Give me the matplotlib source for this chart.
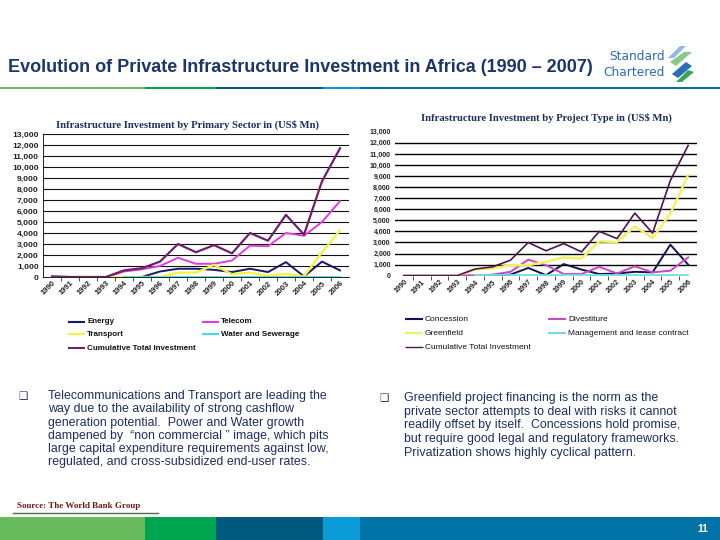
import numpy as np
import matplotlib
matplotlib.use('Agg')
import matplotlib.pyplot as plt
from matplotlib.patches import Rectangle, Polygon
from matplotlib.ticker import FuncFormatter, FixedLocator

# ---------------- data ----------------
years = ['1990', '1991', '1992', '1993', '1994', '1995', '1996', '1997', '1998',
         '1999', '2000', '2001', '2002', '2003', '2004', '2005', '2006']

# Primary sector (US$ Mn)
energy = [0, 0, 0, 0, 0, 0, 500, 750, 750, 650, 450, 750, 450, 1350, 50, 1400, 600]
telecom = [30, 0, 0, 0, 500, 700, 1000, 1750, 1200, 1200, 1500, 2850, 2800, 4000, 3750, 5000, 6900]
transport = [0, 0, 0, 0, 0, 0, 0, 400, 400, 1100, 250, 400, 100, 300, 50, 2250, 4250]
water = [None, None, None, None, 20, 20, 20, 20, 20, 20, 20, 20, 20, 20, 20, 20, 20]
total_sector = [50, 0, 0, 0, 600, 800, 1400, 3000, 2250, 2900, 2150, 4000, 3300, 5650, 3850, 8700, 11700]

# Project type (US$ Mn)
concession = [0, 0, 0, 0, 0, 0, 100, 700, 50, 1050, 550, 150, 200, 350, 300, 2800, 1000]
divestiture = [0, 0, 0, 0, 0, 100, 350, 1450, 950, 150, 150, 800, 200, 850, 300, 450, 1650]
greenfield = [0, 0, 0, 0, 550, 650, 950, 950, 1250, 1650, 1550, 3100, 3050, 4450, 3400, 5600, 9100]
management = [None, None, None, None, 20, 20, 20, 20, 20, 20, 20, 20, 20, 20, 20, 20, 20]
total_type = [0, 0, 0, 0, 600, 800, 1400, 3000, 2250, 2900, 2150, 4000, 3350, 5650, 3850, 8600, 11750]

y_ticks = list(range(0, 14000, 1000))

# ---------------- layout helpers ----------------
W, H = 720, 540
fig = plt.figure(figsize=(7.2, 5.4), dpi=100)
fig.patch.set_facecolor('white')
bg = fig.add_axes([0, 0, 1, 1], zorder=0)
bg.set_xlim(0, W)
bg.set_ylim(H, 0)
bg.axis('off')


def rect(x0, y0, x1, y1):
    return [x0 / W, 1 - y1 / H, (x1 - x0) / W, (y1 - y0) / H]


SANS = ['Liberation Sans', 'DejaVu Sans']
SERIF = ['Liberation Serif', 'DejaVu Serif']
NAVY = '#1b3668'
TEXT = '#1f2d62'

# ---------------- header ----------------
bg.text(8, 68, 'Evolution of Private Infrastructure Investment in Africa (1990 \u2013 2007)',
        fontsize=13.0, fontweight='bold', color=NAVY, family=SANS, va='center', ha='left')
bg.text(665, 56, 'Standard', fontsize=8.8, color='#2a6db5', va='center', ha='right',
        family=['Liberation Sans Narrow', 'DejaVu Sans'])
bg.text(665, 73, 'Chartered', fontsize=8.8, color='#2a6db5', va='center', ha='right',
        family=['Liberation Sans Narrow', 'DejaVu Sans'])
# logo icon (stylised)
logo = [
    ([(680, 46), (686, 46), (674, 58), (668, 58)], '#8fb9e3'),
    ([(684, 52), (692, 52), (676, 66), (670, 62)], '#86c98a'),
    ([(686, 62), (692, 66), (678, 78), (672, 74)], '#2a6db5'),
    ([(688, 70), (694, 72), (682, 82), (676, 82)], '#35a852'),
]
for pts, c in logo:
    bg.add_patch(Polygon(pts, closed=True, facecolor=c, edgecolor='none'))

segs = [(0, 145, '#67bb5d'), (145, 216, '#00a54f'), (216, 323, '#005a80'),
        (323, 360, '#0b9bd6'), (360, 720, '#0072a6')]
for x0, x1, c in segs:
    bg.add_patch(Rectangle((x0, 87), x1 - x0, 2.2, facecolor=c, edgecolor='none'))
    bg.add_patch(Rectangle((x0, 517), x1 - x0, 23, facecolor=c, edgecolor='none'))
bg.text(703, 529, '11', color='white', fontsize=7.5, fontweight='bold', family=SANS,
        ha='center', va='center')

# ---------------- chart helper ----------------
x = np.arange(len(years))


def style_axis(ax, fsx, fsy, bold, box):
    ax.set_xlim(-0.5, len(years) - 0.5)
    ax.set_ylim(0, 13000)
    ax.yaxis.set_major_locator(FixedLocator(y_ticks))
    ax.yaxis.set_major_formatter(FuncFormatter(lambda v, p: f'{int(v):,}'))
    ax.set_xticks(x)
    ax.set_xticklabels(years)
    ax.set_xticks(x[:-1] + 0.5, minor=True)
    ax.tick_params(axis='x', which='major', length=0, pad=2)
    ax.tick_params(axis='x', which='minor', length=3, width=0.6, direction='out', color='#333333')
    ax.tick_params(axis='y', length=0, pad=3)
    for lab in ax.get_xticklabels():
        lab.set_rotation(45)
        lab.set_ha('right')
        lab.set_rotation_mode('anchor')
        lab.set_fontsize(fsx)
        lab.set_fontweight('bold' if bold else 'normal')
        lab.set_family(SANS)
        lab.set_color('#222222')
    for lab in ax.get_yticklabels():
        lab.set_fontsize(fsy)
        lab.set_fontweight('bold' if bold else 'normal')
        lab.set_family(SANS)
        lab.set_color('#222222')
    for s in ['top', 'right']:
        ax.spines[s].set_visible(False)
    ax.spines['left'].set_visible(box)
    ax.spines['left'].set_linewidth(0.6)
    ax.spines['bottom'].set_visible(box)
    ax.spines['bottom'].set_linewidth(0.6)
    ax.set_facecolor('none')


def arr(v):
    return np.array([np.nan if a is None else a for a in v], dtype=float)


# ---------------- left chart ----------------
ax1 = fig.add_axes(rect(43, 134, 349, 277), zorder=2)
for yv in y_ticks[1:]:
    ax1.axhline(yv, color='#111111', lw=0.8, zorder=1)
ax1.plot(x, arr(energy), color='#17176b', lw=1.4, zorder=3)
ax1.plot(x, arr(telecom), color='#e23be0', lw=1.4, zorder=3)
ax1.plot(x, arr(transport), color='#f4f43c', lw=1.6, zorder=3)
ax1.plot(x, arr(water), color='#3fdfe6', lw=1.3, zorder=3)
ax1.plot(x, arr(total_sector), color='#6e2069', lw=1.6, zorder=4)
style_axis(ax1, 5.6, 6.1, True, True)
bg.text(187, 125, 'Infrastructure Investment by Primary Sector in (US$ Mn)', fontsize=7.7,
        fontweight='bold', family=SERIF, color='#1c2f5a', ha='center', va='center')

# ---------------- right chart ----------------
ax2 = fig.add_axes(rect(395, 131.7, 697, 275.7), zorder=2)
for yv in y_ticks[1:-1]:
    ax2.axhline(yv, color='black', lw=1.0, zorder=1)
ax2.plot(x, arr(concession), color='#141450', lw=1.4, zorder=3)
ax2.plot(x, arr(divestiture), color='#cc44c8', lw=1.4, zorder=3)
ax2.plot(x, arr(greenfield), color='#f2f25e', lw=1.8, zorder=3)
ax2.plot(x, arr(management), color='#6fdde6', lw=1.3, zorder=3)
ax2.plot(x, arr(total_type), color='#4d1550', lw=1.2, zorder=4)
style_axis(ax2, 5.2, 5.0, True, False)
bg.text(546, 118, 'Infrastructure Investment by Project Type in (US$ Mn)', fontsize=7.7,
        fontweight='bold', family=SERIF, color='#1c2f5a', ha='center', va='center')


# ---------------- legends ----------------
def legend_item(xh, y, color, label, lw, fs, bold, hl=17):
    bg.plot([xh, xh + hl], [y, y], color=color, lw=lw, solid_capstyle='butt')
    bg.text(xh + hl + 2, y, label, fontsize=fs, fontweight='bold' if bold else 'normal',
            family=SANS, color='#111111', ha='left', va='center')


legend_item(68, 321.7, '#17176b', 'Energy', 1.5, 5.8, True)
legend_item(202, 321.7, '#e23be0', 'Telecom', 1.5, 5.8, True)
legend_item(68, 334.3, '#f4f43c', 'Transport', 1.5, 5.8, True)
legend_item(202, 334.3, '#3fdfe6', 'Water and Sewerage', 1.5, 5.8, True)
legend_item(68, 348, '#6e2069', 'Cumulative Total Investment', 1.5, 5.8, True)

legend_item(405, 319.3, '#141450', 'Concession', 1.5, 6.0, False, 18)
legend_item(548, 319.3, '#cc44c8', 'Divestiture', 1.5, 6.0, False, 18)
legend_item(405, 333.3, '#f2f25e', 'Greenfield', 1.5, 6.0, False, 18)
legend_item(548, 333.3, '#6fdde6', 'Management and lease contract', 1.5, 6.0, False, 18)
legend_item(405, 347.3, '#4d1550', 'Cumulative Total Investment', 1.0, 6.0, False, 18)

# ---------------- bullet text ----------------
left_lines = [
    'Telecommunications and Transport are leading the',
    'way due to the availability of strong cashflow',
    'generation potential.  Power and Water growth',
    'dampened by  \u201cnon commercial \u201d image, which pits',
    'large capital expenditure requirements against low,',
    'regulated, and cross-subsidized end-user rates.',
]
right_lines = [
    'Greenfield project financing is the norm as the',
    'private sector attempts to deal with risks it cannot',
    'readily offset by itself.  Concessions hold promise,',
    'but require good legal and regulatory frameworks.',
    'Privatization shows highly cyclical pattern.',
]
bg.text(23, 396, '\u2751', fontsize=7.5, color=TEXT, family=['DejaVu Sans'], ha='center', va='center')
for i, t in enumerate(left_lines):
    bg.text(48, 396 + i * 13.3, t, fontsize=8.95, color=TEXT, family=SANS, ha='left', va='center')
bg.text(384, 398, '\u2751', fontsize=7.5, color=TEXT, family=['DejaVu Sans'], ha='center', va='center')
for i, t in enumerate(right_lines):
    bg.text(404, 398 + i * 13.7, t, fontsize=8.95, color=TEXT, family=SANS, ha='left', va='center')

# ---------------- source ----------------
bg.text(17, 506, 'Source: The World Bank Group', fontsize=6.5, fontweight='bold',
        family=SERIF, color='#6e1a1a', ha='left', va='center')
bg.plot([13, 158], [512.5, 512.5], color='#4d6b4a', lw=1.0)

fig.savefig('out.png', dpi=100)
